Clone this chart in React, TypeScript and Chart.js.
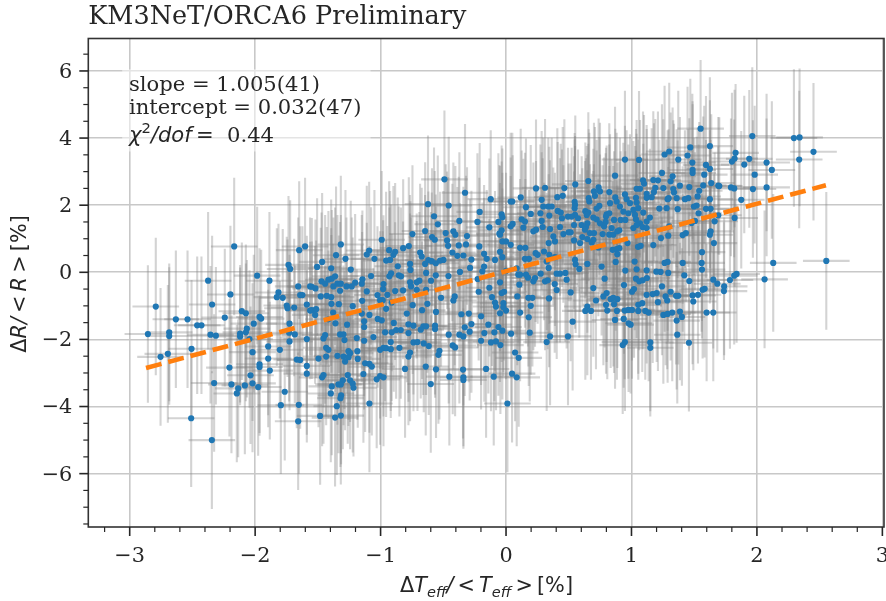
import React, { useEffect, useRef } from "react";
import { Chart, registerables } from "chart.js";

Chart.register(...registerables);

const titleText = "KM3NeT/ORCA6 Preliminary";
const SERIF = '"DejaVu Serif"';
const SANS = '"DejaVu Sans"';
const INK = "#262626";

const xTicks = [-3, -2, -1, 0, 1, 2, 3];
const yTicks = [-6, -4, -2, 0, 2, 4, 6];
const xMinorTicks = [-3.2, -2.8, -2.6, -2.4, -2.2, -1.8, -1.6, -1.4, -1.2, -0.8, -0.6, -0.4, -0.2, 0.2, 0.4, 0.6, 0.8, 1.2, 1.4, 1.6, 1.8, 2.2, 2.4, 2.6, 2.8];
const yMinorTicks = [-7.5, -7, -6.5, -5.5, -5, -4.5, -3.5, -3, -2.5, -1.5, -1, -0.5, 0.5, 1, 1.5, 2.5, 3, 3.5, 4.5, 5, 5.5, 6.5];

const fitX = [-2.87, 2.55];
const fitY = [-2.852, 2.595];

const xErrorHalf = 0.186;
const yErrorHalf = 2.05;

const leftX = [
  -2.167, -1.602, -1.649, -1.734, -1.721, -1.984, -2.375, -1.886, -1.657, -1.562,
  -1.814, -2.197, -1.827, -1.78, -1.641, -1.623, -2.343, -2.792, -1.748, -1.742,
  -1.689, -1.588, -1.562, -2.106, -2.074, -2.242, -1.965, -1.952, -2.632, -2.539,
  -2.011, -1.726, -2.462, -2.428, -2.066, -2.074, -2.855, -2.685, -2.685, -2.356,
  -2.313, -2.12, -2.12, -1.729, -1.684, -2.045, -1.588, -1.726, -2.507, -1.896,
  -1.803, -2.696, -2.754, -2.021, -1.896, -1.668, -1.641, -2.205, -1.965, -1.965,
  -1.588, -1.883, -1.588, -2.037, -2.327, -2.189, -2.082, -2.021, -1.976, -2.135,
  -2.146, -1.764, -1.795, -1.652, -2.51, -1.657, -2.345,
];
const leftY = [
  0.77, 0.77, 0.66, 0.22, 0.1, -0.1, -0.25, -0.25, -0.42, -0.42,
  -0.6, -0.66, -0.74, -0.76, -0.68, -0.68, -0.96, -1.02, -0.99, -1.07,
  -1.05, -0.96, -1.14, -1.16, -1.22, -1.35, -1.33, -1.38, -1.4, -1.4,
  -1.53, -1.53, -1.58, -1.58, -1.68, -1.79, -1.84, -1.79, -1.9, -1.86,
  -1.89, -1.83, -1.91, -1.8, -1.85, -1.99, -1.99, -2.06, -2.28, -2.21,
  -2.31, -2.43, -2.52, -2.38, -2.57, -2.6, -2.61, -2.84, -2.74, -2.82,
  -2.79, -2.93, -3.02, -3.07, -3.3, -3.34, -3.37, -3.31, -3.42, -3.46,
  -3.61, -3.56, -3.96, -3.95, -4.35, -4.44, -5,
];

const midX = [
  -0.491, -0.327, -0.122, 0.037, 0.05, -0.622, -0.457, -0.21, -0.035, -0.574,
  -0.029, -0.372, -0.228, -0.061, -0.544, -0.133, 0.037, 0.053, -0.42, -0.645,
  -0.035, -0.053, -0.746, -0.481, -0.404, -0.59, -0.568, -0.311, -0.048, -0.991,
  -0.47, -0.029, 0, 0.037, -1.317, -0.775, -0.82, -0.932, -0.462, -0.213,
  -0.377, -0.319, -1.091, -0.884, -1.11, -0.685, -0.672, -0.428, -0.388, -0.34,
  -0.175, -0.048, -0.029, -1.355, -1.28, -1.049, -0.956, -0.924, -0.898, -1.466,
  -0.765, -0.619, -0.592, -0.56, -0.526, -0.499, -0.645, -0.154, -0.088, -0.276,
  -0.175, -1.506, -1.394, -1.238, -0.863, -0.762, -0.287, -0.367, -0.189, -0.916,
  -0.93, -1.076, -0.855, -0.837, -0.637, -0.459, -0.56, 0, 0.085, -0.226,
  -1.363, -1.389, -1.416, -1.145, -1.471, -1.442, -1.344, -1.317, -0.691, -0.598,
  -0.765, -0.712, -0.977, -1.203, -1.15, -1.376, -1.548, -1.519, -1.323, -1.23,
  -1.272, -0.98, -0.884, -0.821, -0.757, -0.712, -0.637, -0.133, -0.048, 0.098,
  -0.218, -0.035, -0.016, -1.11, -1.477, -1.429, -1.394, -1.025, -0.946, -0.518,
  -0.409, -0.42, -0.112, 0.09, -1.147, -1.004, -0.983, -0.088, -1.392, -1.333,
  -1.222, -0.744, -0.627, -0.911, -0.08, -0.021, -1.548, -1.514, -0.956, -0.669,
  -1.378, -1.522, -1.15, -1.089, -0.791, -0.558, -0.356, -0.297, -0.199, -0.048,
  0, -0.021, -1.023, -0.991, -1.131, -1.416, -1.267, -1.36, -0.895, -0.778,
  -0.738, -0.659, -0.637, -0.566, -0.276, -0.329, -0.141, -0.061, -1.131, -0.68,
  -0.566, -0.839, -0.876, -0.911, -0.964, -0.778, -0.29, -0.457, -0.173, -0.093,
  -0.029, 0.04, -1.323, -1.296, -1.442, -1.455, -1.288, -1.19, -1.057, -1.131,
  -0.372, -0.34, -0.199, -0.12, -0.08, -0.045, -0.738, -0.706, -0.919, -0.656,
  -0.616, -0.425, -0.406, -1.434, -1.416, -0.977, -1.004, -0.956, -0.919, -0.85,
  -1.185, -1.256, -1.243, -1.344, -1.434, -1.495, -0.765, -0.778, -0.531, -0.539,
  0.072, -1.296, -1.256, -1.182, -1.283, -1.123, -1.089, -1.07, -0.805, -0.64,
  -0.558, -0.343, -0.159, -1.137, -1.455, -1.466, -1.262, 0.048, 0.085, -0.452,
  -0.34, -0.34, -0.098, -1.004, -1.031, -0.977, -1.301, -1.243, -1.222, -1.216,
  -1.336, -1.317, -1.389, -0.6, -1.397, -1.315, -1.32, -1.089, 0.011, -1.349,
  -1.482, -1.317, -1.363,
];
const midY = [
  2.77, 2.37, 2.18, 2.11, 2.11, 2.03, 1.99, 1.8, 1.73, 1.67,
  1.64, 1.53, 1.5, 1.5, 1.43, 1.34, 1.37, 1.44, 1.22, 1.23,
  1.25, 1.15, 1.14, 1.17, 1.12, 1.05, 0.97, 1.08, 1.12, 0.97,
  0.95, 0.92, 0.92, 0.82, 0.83, 0.78, 0.72, 0.66, 0.79, 0.77,
  0.8, 0.83, 0.65, 0.61, 0.53, 0.59, 0.47, 0.59, 0.49, 0.5,
  0.55, 0.61, 0.45, 0.51, 0.4, 0.4, 0.35, 0.37, 0.52, 0.31,
  0.25, 0.36, 0.33, 0.27, 0.35, 0.37, 0.25, 0.4, 0.37, 0.38,
  0.17, 0.16, 0.12, 0.08, 0.18, 0.07, 0.13, 0.01, 0.03, -0.03,
  -0.12, -0.11, -0.09, -0.12, -0.02, -0.11, -0.09, 0.04, 0.12, -0.2,
  -0.12, -0.19, -0.22, -0.21, -0.27, -0.34, -0.34, -0.34, -0.25, -0.25,
  -0.3, -0.3, -0.35, -0.31, -0.34, -0.42, -0.43, -0.48, -0.55, -0.42,
  -0.42, -0.5, -0.56, -0.54, -0.42, -0.52, -0.52, -0.46, -0.3, -0.07,
  -0.58, -0.62, -0.58, -0.57, -0.72, -0.7, -0.74, -0.68, -0.67, -0.76,
  -0.72, -0.84, -0.74, -0.72, -0.85, -0.83, -0.83, -0.9, -0.94, -0.95,
  -1.01, -0.98, -0.94, -0.9, -1.02, -0.92, -1.13, -1.1, -1.09, -1.13,
  -1.2, -1.27, -1.23, -1.27, -1.23, -1.18, -1.25, -1.23, -1.31, -1.22,
  -1.14, -1.04, -1.39, -1.43, -1.46, -1.4, -1.56, -1.52, -1.51, -1.55,
  -1.59, -1.61, -1.61, -1.59, -1.54, -1.64, -1.56, -1.63, -1.63, -1.71,
  -1.69, -1.72, -1.72, -1.79, -1.79, -1.81, -1.77, -1.86, -1.81, -1.79,
  -1.74, -1.83, -1.85, -1.85, -1.87, -1.97, -2.02, -1.96, -1.93, -2.04,
  -1.86, -1.91, -2.04, -2.09, -2.06, -2.17, -2.09, -2.08, -2.08, -2.12,
  -2.2, -2.18, -2.24, -2.25, -2.31, -2.25, -2.31, -2.26, -2.29, -2.25,
  -2.35, -2.35, -2.41, -2.49, -2.51, -2.57, -2.39, -2.51, -2.34, -2.46,
  -2.39, -2.51, -2.53, -2.58, -2.66, -2.71, -2.73, -2.81, -2.88, -2.81,
  -2.89, -2.9, -2.88, -3.03, -3.06, -3.13, -3.06, -3.02, -3.13, -3.11,
  -3.13, -3.21, -3.11, -3.09, -3.19, -3.13, -3.22, -3.22, -3.32, -3.44,
  -3.34, -3.34, -3.4, -3.33, -3.61, -3.67, -3.75, -3.91, -3.91, -3.99,
  -4.28, -4.27, -4.33,
];

const rightX = [
  1.551, 1.469, 1.625, 1.264, 1.301, 1.447, 1.373, 0.948, 1.06, 1.485,
  1.594, 1.625, 1.487, 1.487, 0.869, 1.243, 1.58, 1.328, 1.174, 1.211,
  1.312, 1.092, 1.1, 0.656, 0.552, 0.311, 0.239, 0.465, 0.738, 1.636,
  1.692, 1.461, 1.572, 1.333, 1.254, 1.386, 1.041, 1.068, 1.19, 0.701,
  0.948, 0.749, 0.823, 1.339, 1.54, 1.121, 1.179, 0.409, 0.452, 0.117,
  0.284, 0.871, 0.961, 0.659, 1.036, 0.664, 0.709, 1.161, 1.121, 1.453,
  1.36, 1.296, 1.288, 1.527, 1.625, 0.547, 0.55, 0.547, 0.988, 0.829,
  0.882, 1.041, 0.744, 0.722, 0.337, 0.297, 0.364, 0.159, 1.222, 1.28,
  1.368, 1.519, 1.498, 1.426, 0.908, 1.594, 0.412, 0.436, 0.632, 0.656,
  0.935, 1.015, 1.054, 1.631, 0.274, 1.535, 0.197, 0.345, 0.55, 0.802,
  0.823, 0.523, 0.494, 0.574, 1.094, 1.028, 0.975, 0.696, 0.797, 0.722,
  0.643, 0.125, 0.151, 0.284, 0.446, 1.147, 1.506, 0.914, 0.861, 0.794,
  0.951, 1.036, 1.068, 1.121, 0.542, 0.138, 0.239, 0.218, 0.292, 0.43,
  0.351, 0.603, 0.648, 0.842, 0.781, 0.749, 0.669, 0.701, 0.637, 0.629,
  0.515, 0.499, 0.457, 0.377, 1.301, 1.015, 1.041, 1.089, 0.903, 0.823,
  0.77, 0.855, 0.887, 1.121, 1.692, 1.631, 1.479, 1.625, 1.434, 1.408,
  1.293, 1.235, 0.608, 0.648, 0.696, 0.542, 0.59, 0.34, 0.39, 0.683,
  1.174, 1.657, 0.969, 1.052, 1.073, 0.736, 0.85, 0.882, 0.903, 0.112,
  0.154, 0.236, 0.252, 0.303, 0.345, 0.39, 1.562, 0.151, 0.183, 0.887,
  0.874, 0.324, 0.55, 0.648, 0.762, 1.025, 0.555, 0.584, 1.288, 1.264,
  1.408, 1.559, 0.34, 1.562, 0.951, 1.121, 1.041, 1.198, 1.232, 1.293,
  1.421, 0.112, 0.159, 0.175, 0.231, 0.218, 0.276, 0.311, 0.332, 0.404,
  0.43, 0.473, 0.483, 0.786, 1.036, 1.062, 1.089, 1.123, 0.696, 0.94,
  0.388, 0.404, 0.106, 0.515, 1.461, 1.652, 1.684, 1.243, 1.312, 1.355,
  1.373, 1.201, 1.169, 1.121, 1.02, 1.004, 1.567, 1.583, 1.487, 1.53,
  0.802, 0.776, 0.717, 0.834, 0.855, 0.887, 0.343, 0.178, 0.21, 1.272,
  1.285, 1.211, 1.493, 0.797, 0.861, 1.054, 1.086, 0.648, 0.632, 0.677,
  0.197, 0.807, 0.884, 0.946, 0.975, 1.004, 1.054, 1.11, 1.137, 0.112,
  0.181, 0.531, 1.254, 1.288, 1.325, 1.386, 1.402, 1.36, 1.599, 1.652,
  0.869, 0.938, 0.977, 0.993, 0.189, 0.351, 0.324, 0.494, 1.365, 1.458,
  0.948, 0.93, 1.15, 1.15, 0.101,
];
const rightY = [
  4.28, 3.72, 3.76, 3.51, 3.6, 3.48, 3.36, 3.36, 3.35, 3.27,
  3.2, 3.08, 3.05, 2.96, 2.88, 2.96, 2.91, 2.86, 2.75, 2.74,
  2.71, 2.74, 2.64, 2.72, 2.62, 2.52, 2.5, 2.51, 2.53, 2.66,
  2.58, 2.54, 2.59, 2.48, 2.51, 2.58, 2.49, 2.49, 2.52, 2.41,
  2.32, 2.41, 2.39, 2.38, 2.43, 2.34, 2.39, 2.24, 2.28, 2.23,
  2.16, 2.23, 2.18, 2.21, 2.22, 2.11, 2.28, 2.24, 2.22, 2.21,
  2.21, 2.21, 2.18, 2.26, 2.18, 2.1, 2.01, 1.91, 2.06, 2.06,
  2.11, 2.08, 1.98, 1.9, 1.96, 1.96, 1.96, 1.94, 1.9, 1.91,
  1.88, 1.99, 1.96, 2.18, 1.96, 1.89, 1.83, 1.78, 1.82, 1.78,
  1.81, 1.86, 1.91, 1.89, 1.76, 1.76, 1.74, 1.69, 1.71, 1.73,
  1.76, 1.66, 1.66, 1.61, 1.78, 1.71, 1.76, 1.63, 1.66, 1.58,
  1.71, 1.58, 1.51, 1.53, 1.61, 1.63, 1.53, 1.56, 1.56, 1.5,
  1.56, 1.58, 1.46, 1.51, 1.41, 1.33, 1.27, 1.22, 1.35, 1.35,
  1.29, 1.41, 1.46, 1.32, 1.37, 1.46, 1.17, 1.17, 1.35, 1.27,
  1.19, 1.19, 1.14, 1.07, 1.37, 1.32, 1.41, 1.35, 1.25, 1.12,
  1.14, 1.12, 1.22, 1.32, 1.7, 1.22, 1.47, 1.12, 1.17, 1.11,
  1.09, 1.02, 1.05, 0.99, 0.97, 0.95, 0.87, 0.87, 0.92, 0.89,
  0.81, 0.87, 0.87, 0.76, 0.79, 0.74, 0.67, 0.69, 0.72, 0.73,
  0.73, 0.57, 0.52, 0.62, 0.52, 0.45, 0.6, 0.4, 0.4, 0.54,
  0.31, 0.32, 0.37, 0.25, 0.17, 0.32, 0.24, 0.1, 0.31, 0.28,
  0.28, 0.28, 0.13, 0.08, 0.05, 0.06, 0.09, 0.02, 0.01, -0.02,
  -0.09, -0.07, -0.07, -0.16, -0.17, -0.27, -0.04, -0.27, -0.24, -0.04,
  -0.04, -0.02, -0.22, -0.19, -0.19, -0.27, -0.24, -0.17, -0.47, -0.38,
  -0.35, -0.53, -0.37, -0.6, -0.26, -0.22, -0.34, -0.42, -0.58, -0.7,
  -0.7, -0.62, -0.65, -0.67, -0.5, -0.58, -0.52, -0.49, -0.69, -0.67,
  -0.62, -0.72, -0.84, -0.8, -0.76, -0.8, -0.78, -0.76, -0.76, -0.72,
  -0.84, -0.89, -0.87, -0.97, -0.95, -0.97, -0.92, -1.02, -1.15, -1.15,
  -1, -1.14, -1.15, -1.14, -1.12, -1.12, -1.15, -1.15, -1.2, -1.2,
  -1.34, -1.47, -1.27, -1.24, -1.2, -1.17, -1.33, -1.44, -1.2, -1.2,
  -1.42, -1.39, -1.52, -1.56, -1.8, -1.91, -2.08, -1.91, -1.86, -2.1,
  -2.08, -2.17, -2.09, -2.25, -2.55,
];

const farX = [
  1.963, 2.295, 2.34, 2.451, 1.83, 1.939, 2.077, 2.119, 1.822, 1.801,
  1.899, 1.982, 1.7, 1.793, 1.819, 1.968, 2.077, 1.875, 1.822, 1.663,
  2.13, 2.553, 2.061, 1.838, 1.819, 1.785, 1.739, 1.737, 2.337,
];
const farY = [
  4.06, 4, 4.02, 3.59, 3.56, 3.38, 3.27, 3.05, 3.39, 3.3,
  3.21, 2.91, 2.57, 2.53, 2.5, 2.48, 2.53, 2.16, 1.62, 1.52,
  0.28, 0.34, -0.21, -0.05, -0.1, -0.23, -0.42, -0.56, 3.36,
];

const pointX = [...leftX, ...midX, ...rightX, ...farX];
const pointY = [...leftY, ...midY, ...rightY, ...farY];

type Run = { t: string; i?: boolean; sub?: boolean; sup?: boolean; serif?: boolean };

const THIN = "\u2009";
const xLabelRuns: Run[] = [
  { t: "Δ" }, { t: "T", i: true }, { t: "eff", i: true, sub: true }, { t: "/", i: true },
  { t: `${THIN}<${THIN}` }, { t: "T", i: true }, { t: "eff", i: true, sub: true }, { t: `${THIN}>${THIN}` }, { t: "[%]" },
];
const yLabelRuns: Run[] = [
  { t: "Δ" }, { t: "R", i: true }, { t: "/", i: true }, { t: `${THIN}<${THIN}` }, { t: "R", i: true }, { t: `${THIN}>${THIN}` }, { t: "[%]" },
];
const noteLines: Run[][] = [
  [{ t: "slope = 1.005(41)", serif: true }],
  [{ t: "intercept = 0.032(47)", serif: true }],
  [{ t: "χ", i: true }, { t: "2", sup: true }, { t: "/dof", i: true }, { t: `${THIN}=` }, { t: "  0.44", serif: true }],
];

const runFont = (r: Run, size: number) => {
  const s = r.sub || r.sup ? size * 0.7 : size;
  return `${r.i ? "italic " : ""}${s}px ${r.serif ? SERIF : SANS}`;
};
const runsWidth = (ctx: CanvasRenderingContext2D, runs: Run[], size: number) =>
  runs.reduce((w, r) => {
    ctx.font = runFont(r, size);
    return w + ctx.measureText(r.t).width;
  }, 0);
const drawRuns = (ctx: CanvasRenderingContext2D, runs: Run[], x: number, y: number, size: number) => {
  let cx = x;
  ctx.fillStyle = INK;
  ctx.textAlign = "left";
  ctx.textBaseline = "alphabetic";
  for (const r of runs) {
    ctx.font = runFont(r, size);
    const dy = r.sub ? size * 0.25 : r.sup ? -size * 0.42 : 0;
    ctx.fillText(r.t, cx, y + dy);
    cx += ctx.measureText(r.t).width;
  }
};

const decorPlugin = {
  id: "decor",
  beforeDatasetsDraw(chart: any) {
    const { ctx, chartArea: a, scales } = chart;
    const { x, y } = scales;
    ctx.save();
    ctx.fillStyle = "rgba(255,255,255,0.5)";
    ctx.fillRect(x.getPixelForValue(-3.06), y.getPixelForValue(6.05), x.getPixelForValue(-1.08) - x.getPixelForValue(-3.06), y.getPixelForValue(3.6) - y.getPixelForValue(6.05));
    ctx.beginPath();
    ctx.rect(a.left, a.top, a.width, a.height);
    ctx.clip();
    ctx.strokeStyle = "rgba(128,128,128,0.35)";
    ctx.lineWidth = 2.1;
    pointX.forEach((vx, i) => {
      const vy = pointY[i];
      const px = x.getPixelForValue(vx);
      const py = y.getPixelForValue(vy);
      ctx.beginPath();
      ctx.moveTo(px, y.getPixelForValue(vy - yErrorHalf));
      ctx.lineTo(px, y.getPixelForValue(vy + yErrorHalf));
      ctx.stroke();
      ctx.beginPath();
      ctx.moveTo(x.getPixelForValue(vx - xErrorHalf), py);
      ctx.lineTo(x.getPixelForValue(vx + xErrorHalf), py);
      ctx.stroke();
    });
    ctx.restore();
  },
  afterDraw(chart: any) {
    const { ctx, chartArea: a, scales } = chart;
    const { x, y } = scales;
    ctx.save();
    ctx.strokeStyle = "#333333";
    ctx.lineWidth = 1.6;
    ctx.strokeRect(a.left, a.top, a.width, a.height);
    ctx.strokeStyle = INK;
    const tick = (list: number[], len: number, lw: number, horizontal: boolean) => {
      ctx.lineWidth = lw;
      list.forEach((v) => {
        ctx.beginPath();
        if (horizontal) {
          const p = x.getPixelForValue(v);
          ctx.moveTo(p, a.bottom);
          ctx.lineTo(p, a.bottom + len);
        } else {
          const p = y.getPixelForValue(v);
          ctx.moveTo(a.left, p);
          ctx.lineTo(a.left - len, p);
        }
        ctx.stroke();
      });
    };
    tick(xTicks, 9, 1.6, true);
    tick(yTicks, 9, 1.6, false);
    tick(xMinorTicks, 5, 1.2, true);
    tick(yMinorTicks, 5, 1.2, false);

    const labelSize = 20.8;
    const xw = runsWidth(ctx, xLabelRuns, labelSize);
    drawRuns(ctx, xLabelRuns, 486.5 - xw / 2, 591.5, labelSize);
    const yw = runsWidth(ctx, yLabelRuns, labelSize);
    ctx.translate(25.5, 284);
    ctx.rotate(-Math.PI / 2);
    drawRuns(ctx, yLabelRuns, -yw / 2, 0, labelSize);
    ctx.restore();

    ctx.save();
    [91, 114, 142].forEach((py, i) => drawRuns(ctx, noteLines[i], 129, py, 21.1));
    ctx.restore();
  },
};

export default function App() {
  const ref = useRef<HTMLCanvasElement | null>(null);
  useEffect(() => {
    if (!ref.current) return;
    const chart = new Chart(ref.current, {
      type: "scatter",
      data: {
        datasets: [
          {
            label: "fit",
            data: fitX.map((x, i) => ({ x, y: fitY[i] })),
            showLine: true,
            borderColor: "#ff7f0e",
            borderWidth: 4.6,
            borderDash: [16, 7],
            pointRadius: 0,
            fill: false,
          },
          {
            label: "data",
            data: pointX.map((x, i) => ({ x, y: pointY[i] })),
            pointRadius: 3.1,
            pointBorderWidth: 0,
            pointBackgroundColor: "#1f77b4",
            showLine: false,
          },
        ],
      },
      options: {
        animation: false,
        responsive: false,
        layout: { padding: { left: 0, top: 0, bottom: 0, right: 16 } },
        plugins: {
          legend: { display: false },
          tooltip: { enabled: false },
          title: {
            display: true,
            text: titleText,
            align: "start",
            fullSize: false,
            color: INK,
            font: { family: SERIF, size: 25.5, weight: "normal", lineHeight: 1.2 },
            padding: { top: 2, bottom: 5.9 },
          },
        },
        scales: {
          x: {
            type: "linear",
            min: -3.33,
            max: 3.013,
            afterBuildTicks: (s: any) => {
              s.ticks = xTicks.map((value) => ({ value }));
            },
            afterFit: (s: any) => {
              s.height = 74;
              s.paddingLeft = 0;
              s.paddingRight = 0;
            },
            grid: { color: "#c8c8c8", lineWidth: 1.6, drawTicks: false },
            border: { display: false },
            ticks: {
              autoSkip: false,
              maxRotation: 0,
              padding: 17,
              color: INK,
              font: { family: SERIF, size: 20.8 },
              callback: (v: any) => `${v}`.replace("-", "\u2212"),
            },
          },
          y: {
            type: "linear",
            min: -7.59,
            max: 6.967,
            afterBuildTicks: (s: any) => {
              s.ticks = yTicks.map((value) => ({ value }));
            },
            afterFit: (s: any) => {
              s.width = 88.3;
              s.paddingTop = 0;
              s.paddingBottom = 0;
            },
            grid: { color: "#c8c8c8", lineWidth: 1.6, drawTicks: false },
            border: { display: false },
            ticks: {
              autoSkip: false,
              padding: 16,
              labelOffset: 1.5,
              color: INK,
              font: { family: SERIF, size: 20.8 },
              callback: (v: any) => `${v}`.replace("-", "\u2212"),
            },
          },
        },
      },
      plugins: [decorPlugin],
    } as any);
    return () => chart.destroy();
  }, []);
  return (
    <div style={{ position: "absolute", left: 0, top: 0, width: 886, height: 601, overflow: "hidden", background: "#fff" }}>
      <canvas ref={ref} width={900} height={601} style={{ display: "block" }} />
    </div>
  );
}
